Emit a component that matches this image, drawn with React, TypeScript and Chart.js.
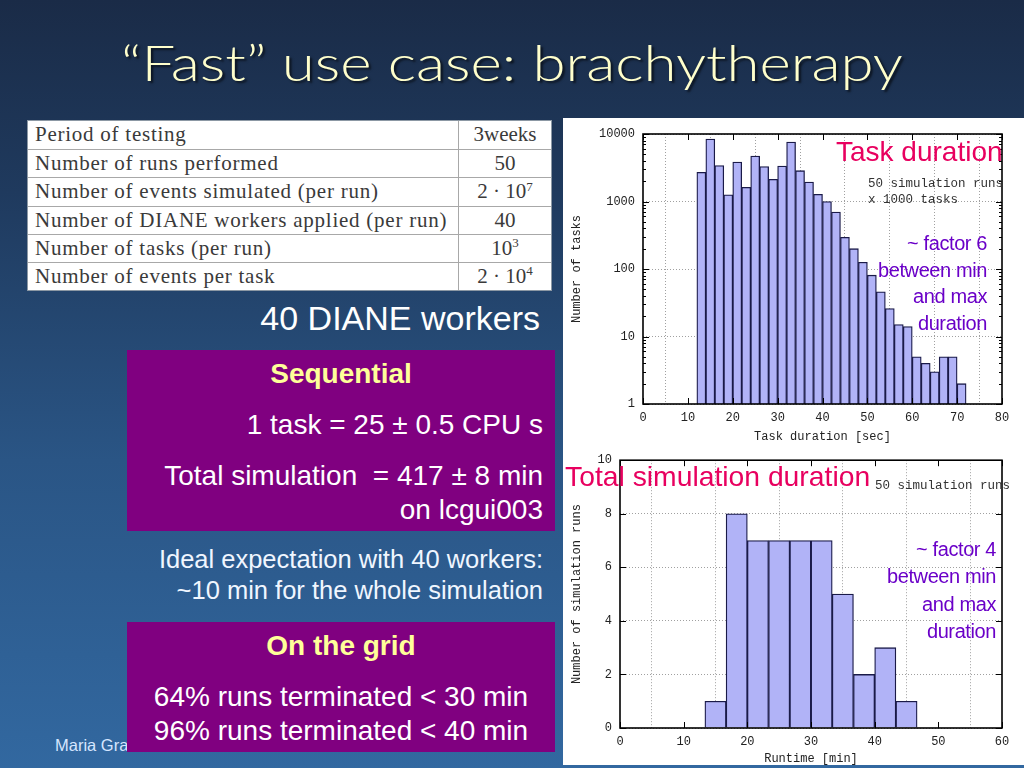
import React, { useEffect, useRef } from "react";
import { Chart, registerables } from "chart.js";

Chart.register(...registerables);

// ---------- Data ----------
// Task duration histogram (bins of 2 s, centres in seconds)
const taskBinCenters = [13, 15, 17, 19, 21, 23, 25, 27, 29, 31, 33, 35, 37, 39, 41, 43, 45, 47, 49, 51, 53, 55, 57, 59, 61, 63, 65, 67, 69, 71];
const taskCounts = [2700, 8400, 3400, 1260, 3850, 1620, 4700, 3300, 2130, 3360, 7600, 2860, 1940, 1280, 1000, 700, 295, 200, 126, 81, 46, 26, 15, 14, 5, 4, 3, 5, 5, 2];
const taskXTicks = [0, 10, 20, 30, 40, 50, 60, 70, 80];
const taskYTicks = [1, 10, 100, 1000, 10000];

// Total simulation duration histogram (bins of 3.33 min, centres in minutes)
const runBinCenters = [15, 18.333, 21.667, 25, 28.333, 31.667, 35, 38.333, 41.667, 45];
const runCounts = [1, 8, 7, 7, 7, 7, 5, 2, 3, 1];
const runXTicks = [0, 10, 20, 30, 40, 50, 60];
const runYTicks = [0, 2, 4, 6, 8, 10];

const supStyle: React.CSSProperties = { fontSize: "0.62em", verticalAlign: "baseline", position: "relative", top: "-0.6em" };
const tableRows: [string, React.ReactNode][] = [
  ["Period of testing", "3weeks"],
  ["Number of runs performed", "50"],
  ["Number of events simulated (per run)", <span>2 · 10<sup style={supStyle}>7</sup></span>],
  ["Number of DIANE workers applied (per run)", "40"],
  ["Number of tasks (per run)", <span>10<sup style={supStyle}>3</sup></span>],
  ["Number of events per task", <span>2 · 10<sup style={supStyle}>4</sup></span>],
];

// ---------- Styling ----------
const MONO = "'Liberation Mono', 'DejaVu Sans Mono', monospace";
const SANS = "'Liberation Sans', Arial, sans-serif";
const SERIF = "'Liberation Serif', 'DejaVu Serif', serif";
const BAR_FILL = "#b1b3f7";
const BAR_EDGE = "#1a1a48";
const AXIS_TEXT = "#222";

const framePlugin = {
  id: "frame",
  afterDatasetsDraw(chart: any, _args: any, opts: any) {
    const { ctx, chartArea } = chart;
    const { left, right, top, bottom } = chartArea;
    const xs = chart.scales.x;
    const ys = chart.scales.y;
    ctx.save();
    ctx.strokeStyle = "#000";
    ctx.lineWidth = 1;
    const major = 6;
    const minor = 3;
    ctx.beginPath();
    (opts.xTicks || []).forEach((v: number) => {
      const p = Math.round(xs.getPixelForValue(v)) + 0.5;
      ctx.moveTo(p, bottom);
      ctx.lineTo(p, bottom - major);
      ctx.moveTo(p, top);
      ctx.lineTo(p, top + major);
    });
    (opts.yTicks || []).forEach((v: number) => {
      const p = Math.round(ys.getPixelForValue(v)) + 0.5;
      ctx.moveTo(left, p);
      ctx.lineTo(left + major, p);
      ctx.moveTo(right, p);
      ctx.lineTo(right - major, p);
    });
    (opts.yMinor || []).forEach((v: number) => {
      const p = Math.round(ys.getPixelForValue(v)) + 0.5;
      ctx.moveTo(left, p);
      ctx.lineTo(left + minor, p);
      ctx.moveTo(right, p);
      ctx.lineTo(right - minor, p);
    });
    ctx.stroke();
    ctx.lineWidth = 1.6;
    ctx.strokeRect(left, top, right - left, bottom - top);
    ctx.restore();
  },
};

function buildMinor(): number[] {
  const out: number[] = [];
  for (let d = 1; d < 10000; d *= 10) {
    for (let k = 2; k <= 9; k++) out.push(d * k);
  }
  return out;
}

function histConfig(p: {
  centers: number[];
  counts: number[];
  xMin: number;
  xMax: number;
  xTicks: number[];
  yTicks: number[];
  log: boolean;
  xTitle: string;
  yTitle: string;
  yWidth: number;
  xHeight: number;
  padTop: number;
  padRight: number;
  xTitlePad: number;
}) {
  const font = { family: MONO, size: 12 };
  return {
    type: "bar" as const,
    data: {
      datasets: [
        {
          data: p.centers.map((x, i) => ({ x, y: p.counts[i] })),
          backgroundColor: BAR_FILL,
          borderColor: BAR_EDGE,
          borderWidth: 1.3,
          barPercentage: 1,
          categoryPercentage: 1,
          grouped: false,
        },
      ],
    },
    options: {
      animation: false,
      responsive: false,
      maintainAspectRatio: false,
      layout: { padding: { top: p.padTop, right: p.padRight, left: 0, bottom: 0 } },
      plugins: {
        legend: { display: false },
        tooltip: { enabled: false },
        frame: {
          xTicks: p.xTicks,
          yTicks: p.yTicks,
          yMinor: p.log ? buildMinor() : [],
        },
      },
      scales: {
        x: {
          type: "linear",
          min: p.xMin,
          max: p.xMax,
          offset: false,
          afterBuildTicks: (s: any) => {
            s.ticks = p.xTicks.map((v) => ({ value: v }));
          },
          afterFit: (s: any) => {
            s.height = p.xHeight;
          },
          ticks: {
            font,
            color: AXIS_TEXT,
            padding: 7,
            maxRotation: 0,
            autoSkip: false,
            callback: (v: any) => String(v),
          },
          grid: { color: "#a0a0a0", lineWidth: 1, drawTicks: false },
          border: { display: false, dash: [1, 2] },
          title: {
            display: true,
            text: p.xTitle,
            font: { family: MONO, size: 12, lineHeight: 1 },
            color: AXIS_TEXT,
            padding: { top: 0, bottom: p.xTitlePad },
          },
        },
        y: {
          type: p.log ? "logarithmic" : "linear",
          min: p.yTicks[0],
          max: p.yTicks[p.yTicks.length - 1],
          afterBuildTicks: (s: any) => {
            s.ticks = p.yTicks.map((v) => ({ value: v }));
          },
          afterFit: (s: any) => {
            s.width = p.yWidth;
          },
          ticks: {
            font,
            color: AXIS_TEXT,
            padding: 8,
            autoSkip: false,
            callback: (v: any) => String(v),
          },
          grid: { color: "#a0a0a0", lineWidth: 1, drawTicks: false },
          border: { display: false, dash: [1, 2] },
          title: {
            display: true,
            text: p.yTitle,
            font: { family: MONO, size: 12, lineHeight: 1 },
            color: AXIS_TEXT,
            padding: { top: 8, bottom: 0 },
          },
        },
      },
    },
    plugins: [framePlugin],
  };
}

function HistCanvas(props: { cfg: any; style: React.CSSProperties; w: number; h: number }) {
  const ref = useRef<HTMLCanvasElement | null>(null);
  useEffect(() => {
    if (!ref.current) return;
    const chart = new Chart(ref.current, props.cfg);
    return () => chart.destroy();
  }, []);
  return <canvas ref={ref} width={props.w} height={props.h} style={{ position: "absolute", width: props.w, height: props.h, ...props.style }} />;
}

const abs = (s: React.CSSProperties): React.CSSProperties => ({ position: "absolute", whiteSpace: "nowrap", ...s });

export default function App() {
  const topCfg = histConfig({
    centers: taskBinCenters,
    counts: taskCounts,
    xMin: 0,
    xMax: 80,
    xTicks: taskXTicks,
    yTicks: taskYTicks,
    log: true,
    xTitle: "Task duration [sec]",
    yTitle: "Number of tasks",
    yWidth: 80,
    xHeight: 41,
    padTop: 16,
    padRight: 22,
    xTitlePad: 2,
  });
  const botCfg = histConfig({
    centers: runBinCenters,
    counts: runCounts,
    xMin: 0,
    xMax: 60,
    xTicks: runXTicks,
    yTicks: runYTicks,
    log: false,
    xTitle: "Runtime [min]",
    yTitle: "Number of simulation runs",
    yWidth: 57,
    xHeight: 37,
    padTop: 13,
    padRight: 22,
    xTitlePad: 0,
  });

  const purple = "#800080";
  const yellow = "#ffff99";
  const pink = "#e8005f";
  const violet = "#6a00c8";

  const annot = (lines: string[], right: number, tops: number[]) =>
    lines.map((t, i) => (
      <div
        key={t + i}
        style={abs({
          right: 1024 - right,
          top: tops[i] - 12,
          fontFamily: SANS,
          fontSize: 20,
          lineHeight: "24px",
          color: violet,
          letterSpacing: -0.4,
          textAlign: "right",
        })}
      >
        {t}
      </div>
    ));

  return (
    <div
      style={{
        position: "fixed",
        left: 0,
        top: 0,
        width: 1024,
        height: 768,
        overflow: "hidden",
        background: "linear-gradient(180deg, #1a2b47 0%, #1f3a5e 25%, #2a5585 60%, #3268a0 100%)",
        fontFamily: SANS,
      }}
    >
      {/* Title */}
      <div
        style={abs({
          left: 0,
          width: 1024,
          top: 30,
          textAlign: "center",
          fontFamily: "Lato, 'Open Sans', sans-serif",
          fontWeight: 300,
          fontSize: 50,
          lineHeight: "64px",
          color: "#ffffcc",
          textShadow: "2px 2px 2px rgba(0,0,0,0.6)",
          transform: "scaleX(1.2)",
          transformOrigin: "512px 0",
        })}
      >
        “Fast” use case: brachytherapy
      </div>

      {/* Table */}
      <div
        style={abs({
          left: 27,
          top: 120,
          width: 525,
          height: 171,
          background: "#fff",
          border: "1px solid #8c98a4",
          boxSizing: "border-box",
          fontFamily: SERIF,
          fontSize: 21,
          color: "#3a3a3a",
        })}
      >
        {tableRows.map(([a, b], i) => (
          <div
            key={i}
            style={{
              position: "absolute",
              left: 0,
              top: i * 28.2,
              width: 523,
              height: 28.2,
              borderTop: i ? "1px solid #a8a8a8" : "none",
              boxSizing: "border-box",
            }}
          >
            <span style={abs({ left: 7, top: 0, lineHeight: "27px", letterSpacing: 0.75 })}>{a}</span>
            <span style={abs({ left: 431, width: 92, top: 0, textAlign: "center", lineHeight: "27px" })}>{b}</span>
          </div>
        ))}
        <div style={abs({ left: 430, top: 0, width: 1, height: 169, background: "#a8a8a8" })} />
      </div>

      <div style={abs({ right: 1024 - 540, top: 297, fontSize: 34, lineHeight: "42px", color: "#fff" })}>40 DIANE workers</div>

      {/* Footer name (partly hidden) */}
      <div style={abs({ left: 55, top: 735, fontSize: 16.5, lineHeight: "20px", color: "#d6e6ff" })}>Maria Grazia Pia</div>

      {/* Sequential box */}
      <div style={abs({ left: 127, top: 350, width: 428, height: 181, background: purple })} />
      <div style={abs({ left: 127, width: 428, top: 356, textAlign: "center", fontSize: 28, fontWeight: "bold", lineHeight: "36px", color: yellow })}>
        Sequential
      </div>
      <div style={abs({ right: 1024 - 543, top: 407, fontSize: 28, lineHeight: "36px", color: "#fff" })}>1 task = 25 ± 0.5 CPU s</div>
      <div style={abs({ right: 1024 - 543, top: 458, fontSize: 28, lineHeight: "36px", color: "#fff", whiteSpace: "pre" })}>
        Total simulation  = 417 ± 8 min
      </div>
      <div style={abs({ right: 1024 - 543, top: 492, fontSize: 28, lineHeight: "36px", color: "#fff" })}>on lcgui003</div>

      <div style={abs({ right: 1024 - 543, top: 544, fontSize: 25.5, lineHeight: "31px", color: "#f0f6ff", textAlign: "right" })}>
        Ideal expectation with 40 workers:
      </div>
      <div style={abs({ right: 1024 - 543, top: 575, fontSize: 25.5, lineHeight: "31px", color: "#f0f6ff", textAlign: "right" })}>
        ~10 min for the whole simulation
      </div>

      {/* Grid box */}
      <div style={abs({ left: 127, top: 622, width: 428, height: 130, background: purple })} />
      <div style={abs({ left: 127, width: 428, top: 628, textAlign: "center", fontSize: 28, fontWeight: "bold", lineHeight: "36px", color: yellow })}>
        On the grid
      </div>
      <div style={abs({ left: 127, width: 428, top: 679, textAlign: "center", fontSize: 28, lineHeight: "36px", color: "#fff" })}>
        64% runs terminated &lt; 30 min
      </div>
      <div style={abs({ left: 127, width: 428, top: 713, textAlign: "center", fontSize: 28, lineHeight: "36px", color: "#fff" })}>
        96% runs terminated &lt; 40 min
      </div>

      {/* Chart panel */}
      <div style={abs({ left: 563, top: 118, width: 461, height: 647, background: "#fff" })} />
      <HistCanvas cfg={topCfg} w={461} h={327} style={{ left: 563, top: 118 }} />
      <HistCanvas cfg={botCfg} w={461} h={320} style={{ left: 563, top: 445 }} />

      {/* Chart annotations */}
      <div style={abs({ left: 836, top: 135, fontSize: 28, lineHeight: "34px", color: pink })}>Task duration</div>
      <div style={abs({ left: 868, top: 176, fontFamily: MONO, fontSize: 12.5, lineHeight: "16px", color: "#333", whiteSpace: "pre" })}>
        {"50 simulation runs\nx 1000 tasks"}
      </div>
      {annot(["~ factor 6", "between min", "and max", "duration"], 987, [243, 270, 296, 323])}

      <div style={abs({ left: 565, top: 459, fontSize: 28.3, lineHeight: "34px", color: pink })}>Total simulation duration</div>
      <div style={abs({ left: 875, top: 478, fontFamily: MONO, fontSize: 12.5, lineHeight: "16px", color: "#333" })}>50 simulation runs</div>
      {annot(["~ factor 4", "between min", "and max", "duration"], 996, [549, 576, 604, 631])}
    </div>
  );
}
